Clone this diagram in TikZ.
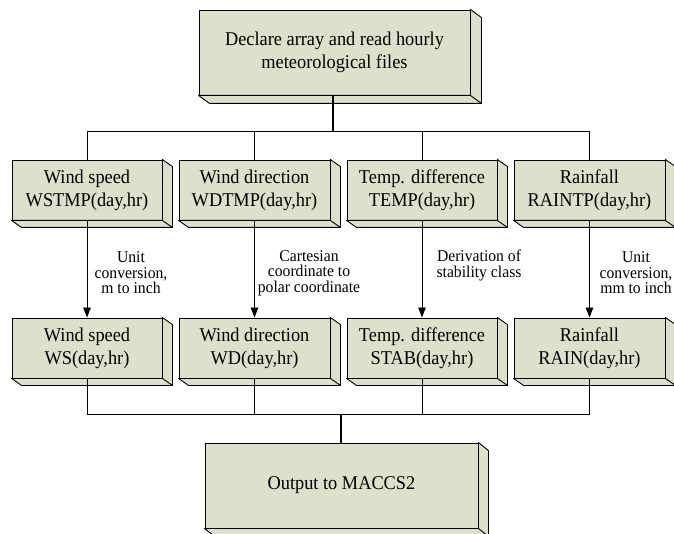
\documentclass[tikz,border=0pt]{standalone}
\usepackage{fontspec}
\setmainfont{Liberation Serif}
\newfontfamily\boxfont[FakeStretch=0.94]{Liberation Serif}
\newfontfamily\lblfont[FakeStretch=0.95]{Liberation Serif}
\usetikzlibrary{arrows.meta}
\definecolor{boxfill}{RGB}{221,224,202}
\tikzset{
  flowbox/.style={draw=black, line width=0.9pt, fill=boxfill, align=center, inner sep=0pt,
    font=\boxfont\fontsize{19.5}{23}\selectfont},
  sidepart/.style={draw=black, line width=0.9pt, fill=boxfill, line join=round},
  conn/.style={draw=black, line width=0.9pt},
  thickconn/.style={draw=black, line width=2pt},
  arrowconn/.style={draw=black, line width=0.9pt, -{Triangle[length=10pt,width=7.5pt]}},
  lbl/.style={align=center, inner sep=0pt, font=\lblfont\fontsize{16.5}{15.5}\selectfont}
}
\newcommand{\extrude}[3]{%
  \path[sidepart] (#1.north east) -- ([shift={(#2,#3)}]#1.north east) -- ([shift={(#2,#3)}]#1.south east)
     -- ([shift={(#2,#3)}]#1.south west) -- (#1.south west) -- (#1.south east) -- cycle;
  \draw[line width=0.9pt] (#1.south east) -- ([shift={(#2,#3)}]#1.south east);
}
\begin{document}
\begin{tikzpicture}[x=1pt,y=-1pt]
\useasboundingbox (0,0) rectangle (674,534);

% top box
\node[flowbox, minimum width=271pt, minimum height=85pt] (top) at (334.5,52.5)
  {Declare array and read hourly\\meteorological files};
\extrude{top}{11}{8}

% row 1
\node[flowbox, minimum width=150pt, minimum height=60pt] (ws1) at (87,190) {Wind speed\\WSTMP(day,hr)};
\node[flowbox, minimum width=151pt, minimum height=60pt] (wd1) at (254.5,190) {Wind direction\\WDTMP(day,hr)};
\node[flowbox, minimum width=150pt, minimum height=60pt] (tp1) at (422,190) {Temp. difference\\TEMP(day,hr)};
\node[flowbox, minimum width=151pt, minimum height=60pt] (rn1) at (589.5,190) {Rainfall\\RAINTP(day,hr)};
\extrude{ws1}{10}{7}
\extrude{wd1}{10}{7}
\extrude{tp1}{10}{7}
\extrude{rn1}{10}{7}

% row 2
\node[flowbox, minimum width=150pt, minimum height=60pt] (ws2) at (87,348) {Wind speed\\WS(day,hr)};
\node[flowbox, minimum width=151pt, minimum height=60pt] (wd2) at (254.5,348) {Wind direction\\WD(day,hr)};
\node[flowbox, minimum width=150pt, minimum height=60pt] (tp2) at (422,348) {Temp. difference\\STAB(day,hr)};
\node[flowbox, minimum width=151pt, minimum height=60pt] (rn2) at (589.5,348) {Rainfall\\RAIN(day,hr)};
\extrude{ws2}{10}{7}
\extrude{wd2}{10}{7}
\extrude{tp2}{10}{7}
\extrude{rn2}{10}{7}

% bottom box
\node[flowbox, minimum width=273pt, minimum height=85pt] (out) at (341.5,485.5) {Output to MACCS2};
\extrude{out}{10}{8}

% top distribution
\coordinate (tj) at (333,131);
\draw[thickconn] (top.south -| tj) -- (tj);
\draw[conn] (ws1.north |- tj) -- (rn1.north |- tj);
\draw[conn] (ws1.north |- tj) -- (ws1.north);
\draw[conn] (wd1.north |- tj) -- (wd1.north);
\draw[conn] (tp1.north |- tj) -- (tp1.north);
\draw[conn] (rn1.north |- tj) -- (rn1.north);

% arrows
\draw[arrowconn] (ws1.south) -- (ws2.north);
\draw[arrowconn] (wd1.south) -- (wd2.north);
\draw[arrowconn] (tp1.south) -- (tp2.north);
\draw[arrowconn] (rn1.south) -- (rn2.north);

% labels
\node[lbl] (l1) at (131,273) {Unit\\conversion,\\m to inch};
\node[lbl] (l2) at (309,273) {Cartesian\\coordinate to\\polar coordinate};
\node[lbl] (l3) at (479,265.5) {Derivation of\\stability class};
\node[lbl] (l4) at (636,273) {Unit\\conversion,\\mm to inch};

% bottom collection
\coordinate (bj) at (341,414);
\draw[conn] (ws2.south) -- (ws2.south |- bj) -- (rn2.south |- bj) -- (rn2.south);
\draw[conn] (wd2.south) -- (wd2.south |- bj);
\draw[conn] (tp2.south) -- (tp2.south |- bj);
\draw[thickconn] (bj) -- (out.north -| bj);
\end{tikzpicture}
\end{document}
